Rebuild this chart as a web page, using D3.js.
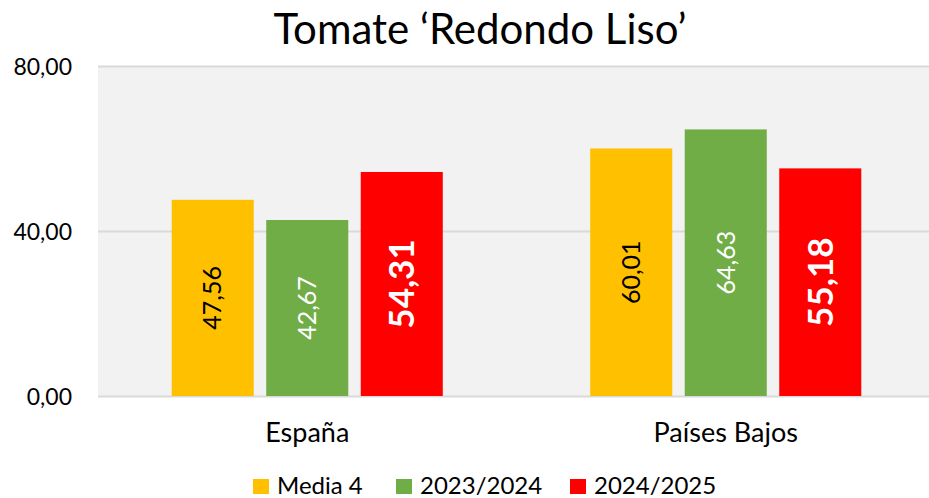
<!DOCTYPE html>
<html>
<head>
<meta charset="utf-8">
<script src="https://cdn.jsdelivr.net/npm/d3@7"></script>
<style>
  html, body { margin: 0; padding: 0; background: #fff; }
  svg { display: block; font-family: Lato, "Open Sans", sans-serif; }
</style>
</head>
<body>
<svg id="chart" width="929" height="498"></svg>
<script>
// Chart data
const categories = ["España", "Países Bajos"];
const seriesNames = ["Media 4", "2023/2024", "2024/2025"];
const media4 = [47.56, 60.01];
const s2023 = [42.67, 64.63];
const s2024 = [54.31, 55.18];
const yTicks = [0, 40, 80];
const seriesColors = ["#FFC000", "#70AD47", "#FF0000"];
const labelColors = ["#000000", "#FFFFFF", "#FFFFFF"];
const labelWeights = ["normal", "normal", "bold"];
const labelSizes = [25, 25, 35];

const seriesValues = [media4, s2023, s2024];
const rows = categories.map((c, i) => ({
  cat: c,
  vals: seriesNames.map((s, j) => ({ series: s, idx: j, value: seriesValues[j][i] }))
}));

const svg = d3.select("#chart");
const plot = { left: 98, right: 935, top: 66, bottom: 396 };

const fmt = v => d3.format(".2f")(v).replace(".", ",");

const x0 = d3.scaleBand().domain(categories).range([plot.left, plot.right]).padding(0);
const x1 = d3.scaleBand().domain(seriesNames).range([0, x0.bandwidth()])
  .paddingInner(0.132).paddingOuter(0.78);
const y = d3.scaleLinear().domain([0, 80]).range([plot.bottom, plot.top]);

// Plot background
svg.append("rect")
  .attr("x", plot.left).attr("y", plot.top)
  .attr("width", plot.right - plot.left).attr("height", plot.bottom - plot.top)
  .attr("fill", "#F2F2F2");

// Gridlines and value axis
const yAxis = d3.axisLeft(y).tickValues(yTicks)
  .tickSize(-(plot.right - plot.left)).tickFormat(fmt).tickPadding(26);
const gy = svg.append("g").attr("transform", `translate(${plot.left},0)`).call(yAxis);
gy.select(".domain").remove();
gy.selectAll(".tick line").attr("stroke", "#D9D9D9").attr("stroke-width", 2);
gy.selectAll(".tick text")
  .attr("font-size", 23).attr("fill", "#000")
  .attr("font-family", "Lato, sans-serif")
  .attr("dy", "0.35em");

// Bars
const groups = svg.append("g").selectAll("g").data(rows).join("g")
  .attr("transform", d => `translate(${x0(d.cat)},0)`);

groups.selectAll("rect").data(d => d.vals).join("rect")
  .attr("x", d => x1(d.series))
  .attr("y", d => y(d.value))
  .attr("width", x1.bandwidth())
  .attr("height", d => y(0) - y(d.value))
  .attr("fill", d => seriesColors[d.idx]);

// Value labels, rotated inside each bar
groups.selectAll("text.val").data(d => d.vals).join("text")
  .attr("class", "val")
  .attr("transform", d => {
    const cx = x1(d.series) + x1.bandwidth() / 2;
    const cy = (y(d.value) + y(0)) / 2;
    return `translate(${cx},${cy}) rotate(-90)`;
  })
  .attr("text-anchor", "middle")
  .attr("dy", "0.35em")
  .attr("font-size", d => labelSizes[d.idx])
  .attr("font-weight", d => labelWeights[d.idx])
  .attr("fill", d => labelColors[d.idx])
  .text(d => fmt(d.value));

// Category axis
const xAxis = d3.axisBottom(x0).tickSize(0).tickPadding(0);
const gx = svg.append("g").attr("transform", `translate(0,${plot.bottom})`).call(xAxis);
gx.select(".domain").remove();
gx.selectAll(".tick text")
  .attr("font-size", 27).attr("fill", "#000")
  .attr("font-family", "Lato, sans-serif")
  .attr("y", 46).attr("dy", "0");

// Title
svg.append("text")
  .attr("x", 480).attr("y", 44)
  .attr("text-anchor", "middle")
  .attr("font-size", 42)
  .attr("fill", "#000")
  .text("Tomate ‘Redondo Liso’");

// Legend
const legendX = [253, 396, 570];
const legend = svg.append("g").selectAll("g").data(seriesNames).join("g")
  .attr("transform", (d, i) => `translate(${legendX[i]},479)`);
legend.append("rect")
  .attr("width", 16).attr("height", 15)
  .attr("fill", (d, i) => seriesColors[i]);
legend.append("text")
  .attr("x", 24).attr("y", 15)
  .attr("font-size", 24).attr("fill", "#000")
  .text(d => d);
</script>
</body>
</html>
